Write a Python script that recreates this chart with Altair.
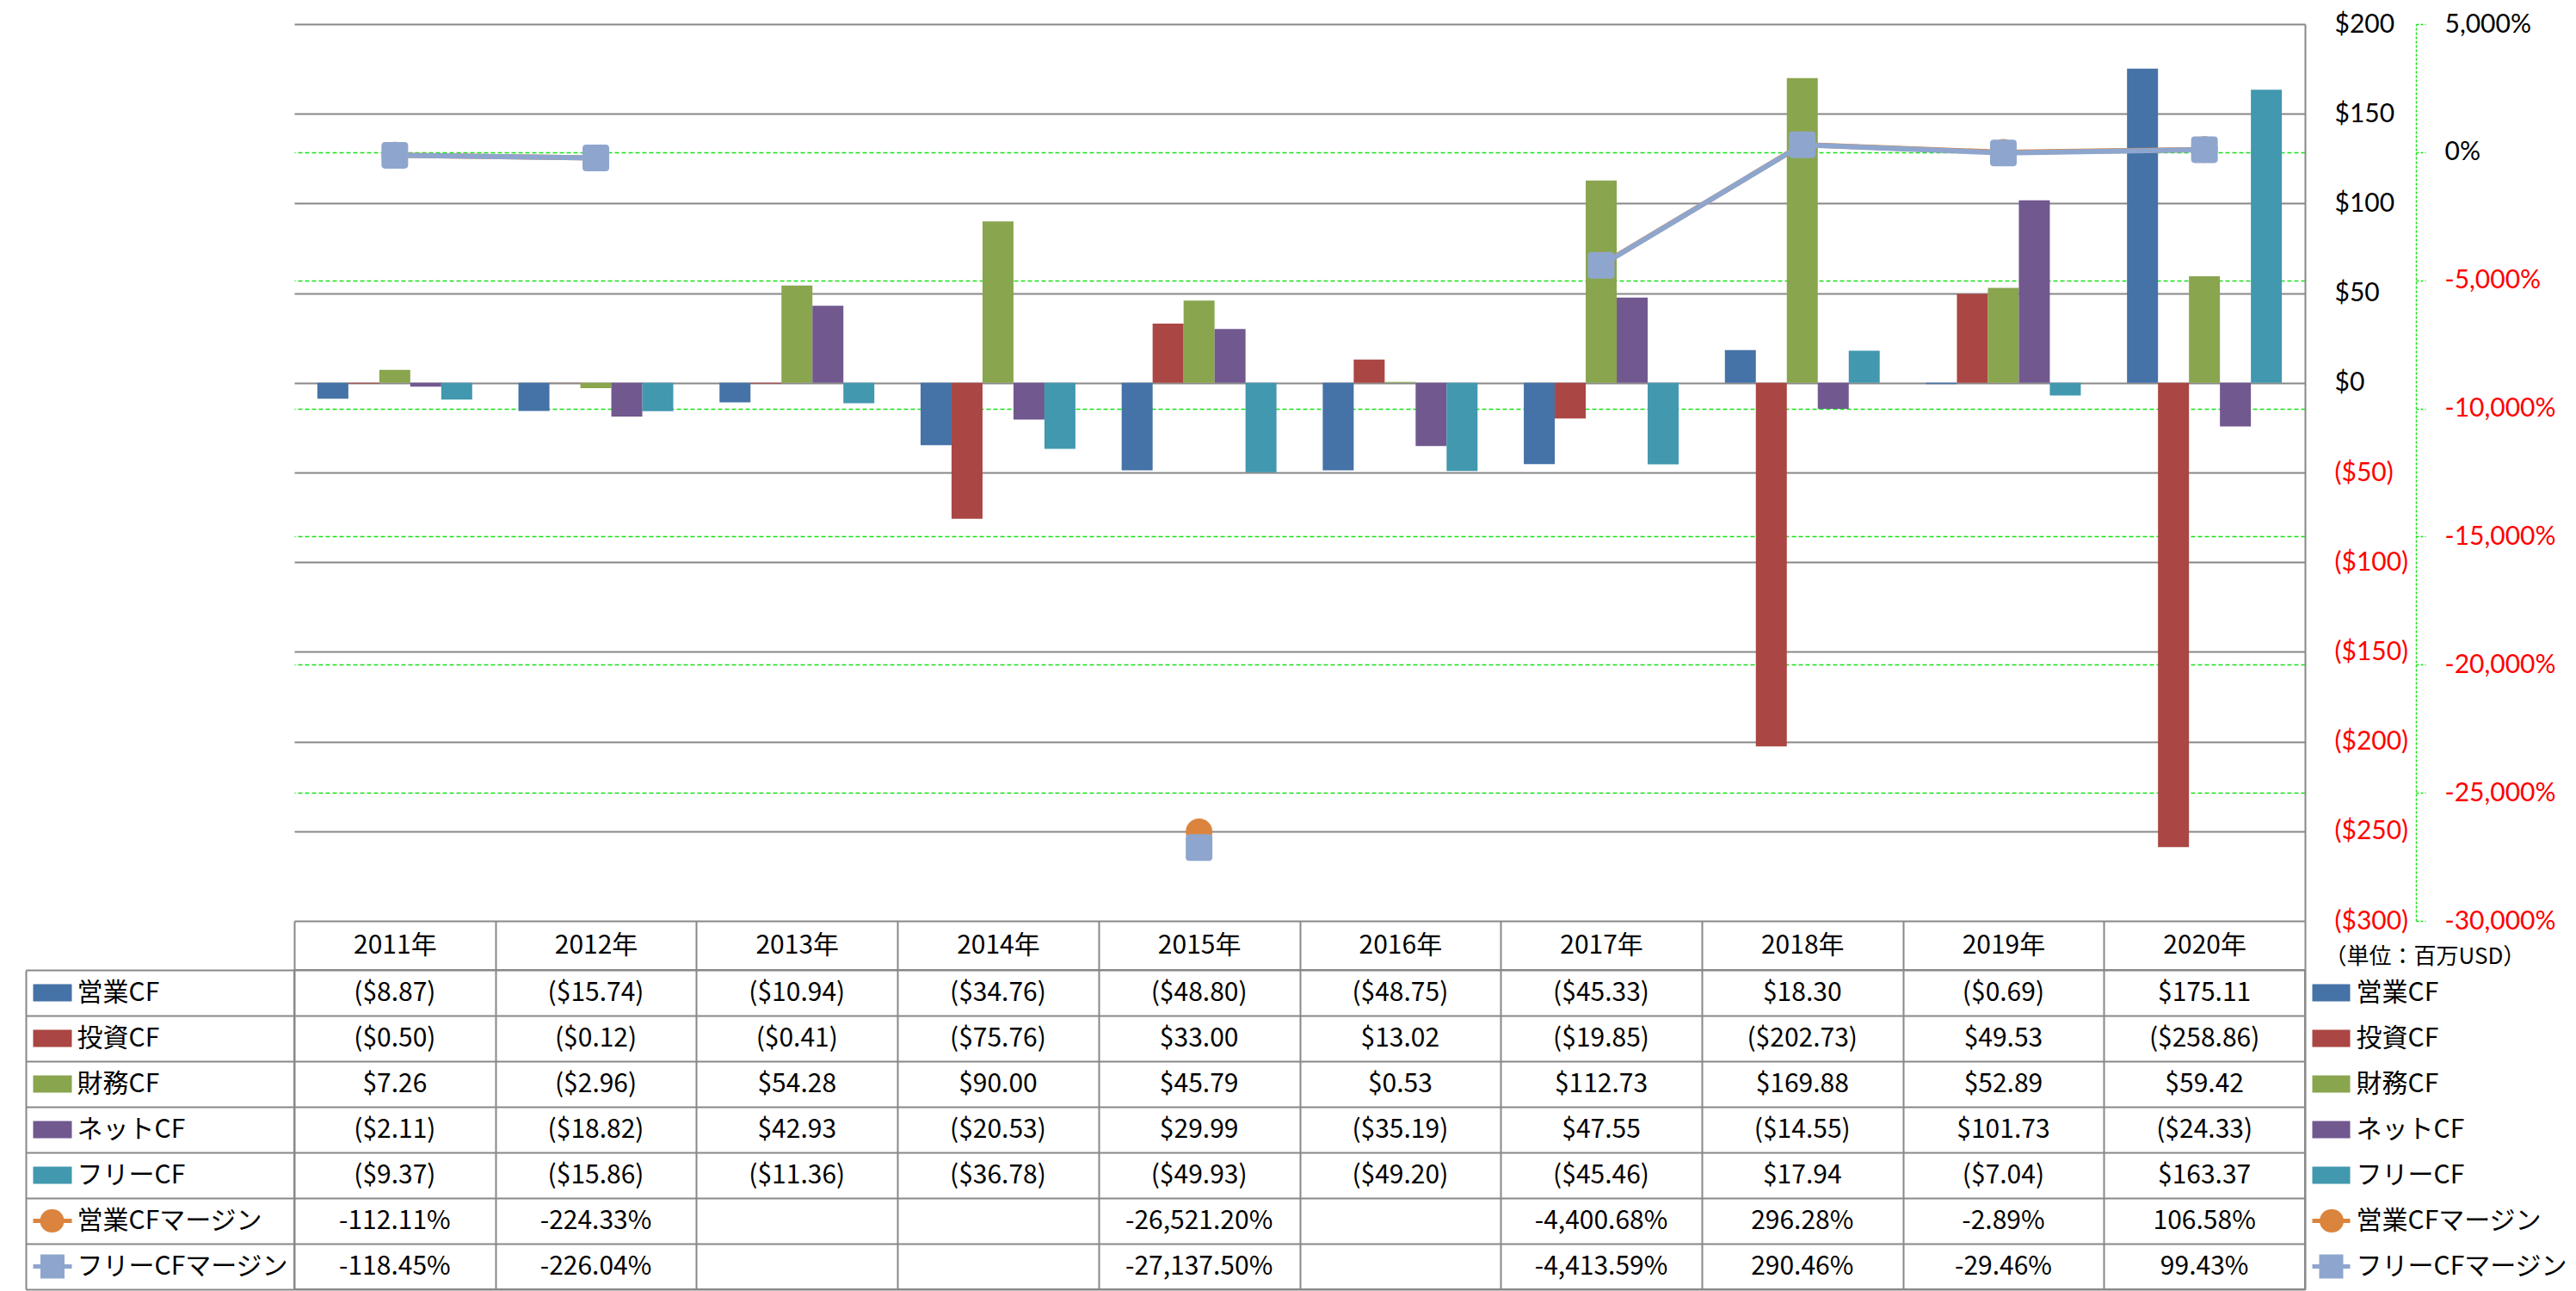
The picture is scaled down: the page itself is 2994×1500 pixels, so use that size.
import altair as alt
import pandas as pd

# ---------------- data ----------------
years = ["2011年", "2012年", "2013年", "2014年", "2015年",
         "2016年", "2017年", "2018年", "2019年", "2020年"]
cf_series = ["営業CF", "投資CF", "財務CF", "ネットCF", "フリーCF"]
margin_series = ["営業CFマージン", "フリーCFマージン"]

operating_cf = [-8.87, -15.74, -10.94, -34.76, -48.80, -48.75, -45.33, 18.30, -0.69, 175.11]
investing_cf = [-0.50, -0.12, -0.41, -75.76, 33.00, 13.02, -19.85, -202.73, 49.53, -258.86]
financing_cf = [7.26, -2.96, 54.28, 90.00, 45.79, 0.53, 112.73, 169.88, 52.89, 59.42]
net_cf = [-2.11, -18.82, 42.93, -20.53, 29.99, -35.19, 47.55, -14.55, 101.73, -24.33]
free_cf = [-9.37, -15.86, -11.36, -36.78, -49.93, -49.20, -45.46, 17.94, -7.04, 163.37]
operating_margin = [-112.11, -224.33, None, None, -26521.20, None, -4400.68, 296.28, -2.89, 106.58]
free_margin = [-118.45, -226.04, None, None, -27137.50, None, -4413.59, 290.46, -29.46, 99.43]

cf_colors = ["#4572A7", "#AA4643", "#89A54E", "#71588F", "#4198AF"]
margin_colors = ["#DB843D", "#8EA6CE"]
unit_label = "（単位：百万USD）"
primary_ticks = [-300, -250, -200, -150, -100, -50, 0, 50, 100, 150, 200]
secondary_ticks = [-30000, -25000, -20000, -15000, -10000, -5000, 0, 5000]

# ---------------- styles ----------------
FONT = "Noto Sans CJK JP"
AXIS_FONT = "Lato"
GRID = "#888888"
GREEN = "#19E019"
RED = "#FF0000"
W = 2337
H_TOP = 1042
H_TAB = 371
ROUND_SQ = ("M -0.72,-1 L 0.72,-1 Q 1,-1 1,-0.72 L 1,0.72 Q 1,1 0.72,1 "
            "L -0.72,1 Q -1,1 -1,0.72 L -1,-0.72 Q -1,-1 -0.72,-1 Z")

series_values = dict(zip(cf_series + margin_series,
                         [operating_cf, investing_cf, financing_cf, net_cf, free_cf,
                          operating_margin, free_margin]))
row_order = cf_series + margin_series
all_colors = cf_colors + margin_colors

cf_df = pd.DataFrame([{"year": y, "series": s, "value": v}
                      for s in cf_series for y, v in zip(years, series_values[s])])
margin_df = pd.DataFrame([{"year": y, "series": s, "value": v}
                          for s in margin_series for y, v in zip(years, series_values[s])])
table_df = pd.DataFrame([{"year": y, "series": s, "value": v}
                         for s in row_order for y, v in zip(years, series_values[s])])

# ---------------- top chart ----------------
x_top = alt.X("year:N", sort=years,
              scale=alt.Scale(domain=years, paddingInner=0.23, paddingOuter=0.115),
              axis=None)

primary_axis = alt.Axis(
    orient="right", values=primary_ticks, domain=True, domainColor=GRID, domainWidth=2,
    ticks=False, labelPadding=34, labelAlign="left", labelBaseline="middle",
    labelFontSize=30, labelFont=AXIS_FONT, labelOverlap=False,
    labelExpr="datum.value < 0 ? '($' + format(-datum.value, 'd') + ')' : '$' + format(datum.value, 'd')",
    labelColor={"condition": {"test": "datum.value < 0", "value": RED}, "value": "black"},
    grid=True, gridColor=GRID, gridWidth=2, title=None)

secondary_axis = alt.Axis(
    orient="right", offset=129, values=secondary_ticks,
    domain=True, domainColor=GREEN, domainDash=[3, 2], domainWidth=1.5,
    ticks=True, tickSize=11, tickColor=GREEN, tickDash=[3, 2], tickWidth=1.5,
    labelPadding=22, labelAlign="left", labelBaseline="middle",
    labelFontSize=30, labelFont=AXIS_FONT, labelOverlap=False,
    labelExpr="(datum.value < 0 ? '-' : '') + format(abs(datum.value), ',') + '%'",
    labelColor={"condition": {"test": "datum.value < 0", "value": RED}, "value": "black"},
    grid=True, gridColor=GREEN, gridDash=[5, 3], gridWidth=1.5,
    gridOpacity={"condition": {"test": "datum.value === 5000 || datum.value === -30000",
                               "value": 0}, "value": 1},
    title=None)

bars = alt.Chart(cf_df).mark_bar().encode(
    x=x_top,
    xOffset=alt.XOffset("series:N", sort=cf_series,
                        scale=alt.Scale(domain=cf_series, paddingInner=0, paddingOuter=0)),
    y=alt.Y("value:Q", scale=alt.Scale(domain=[-300, 200], nice=False, zero=False),
            axis=primary_axis),
    color=alt.Color("series:N", scale=alt.Scale(domain=cf_series, range=cf_colors), legend=None),
)

y_sec = alt.Y("value:Q", scale=alt.Scale(domain=[-30000, 5000], nice=False, zero=False),
              axis=secondary_axis)


def margin_layers(name, color, shape):
    base = alt.Chart(margin_df).transform_filter(alt.datum.series == name)
    line = base.mark_line(color=color, strokeWidth=6,
                          invalid="break-paths-show-domains").encode(x=x_top, y=y_sec)
    pts = base.mark_point(filled=True, size=961, shape=shape, color=color,
                          opacity=1).encode(x=x_top, y=y_sec)
    return [line, pts]


lines = alt.layer(*margin_layers(margin_series[0], margin_colors[0], "circle"),
                  *margin_layers(margin_series[1], margin_colors[1], ROUND_SQ))

top = alt.layer(bars, lines).resolve_scale(y="independent").properties(
    width=W, height=H_TOP, view=alt.ViewBackground(strokeOpacity=0))

# ---------------- table ----------------
header_axis = alt.Axis(
    orient="top", tickBand="extent", tickSize=57, tickColor=GRID, tickWidth=2,
    domain=False, grid=True, gridColor=GRID, gridWidth=2,
    labelPadding=-28.5, labelBaseline="middle", labelAngle=0, labelFontSize=30,
    labelFont=FONT, labelColor="black", labelOverlap=False, title=None)

x_tab = alt.X("year:N", sort=years,
              scale=alt.Scale(domain=years, paddingInner=0, paddingOuter=0),
              axis=header_axis)


def y_tab(axis):
    return alt.Y("series:N", sort=row_order,
                 scale=alt.Scale(domain=row_order, paddingInner=0, paddingOuter=0),
                 axis=axis)


color_cond = {"condition": [{"test": f"datum.value === '{n}'", "value": c}
                            for n, c in zip(row_order, all_colors)],
              "value": "black"}
width_cond = {"condition": {"test": "indexof(datum.value, 'マージン') >= 0", "value": 5},
              "value": 20}


def only(name):
    return {"condition": {"test": f"datum.value === '{name}'", "value": 1}, "value": 0}


label_axis = alt.Axis(
    orient="left", offset=0, domain=False, tickBand="extent", tickSize=312,
    tickColor=GRID, tickWidth=2, grid=True, gridColor=GRID, gridWidth=2,
    labelAlign="left", labelPadding=-59, labelFontSize=30, labelFont=FONT,
    labelColor="black", labelBaseline="middle", labelLimit=500, labelOverlap=False,
    title=None)
border_axis = alt.Axis(orient="left", offset=312, domain=True, domainColor=GRID,
                       domainWidth=2, ticks=False, labels=False, grid=False, title=None)
lsym_axis = alt.Axis(orient="left", offset=259, domain=False, tickSize=45,
                     tickWidth=width_cond, tickColor=color_cond, labels=False,
                     grid=False, title=None)
lcirc_axis = alt.Axis(orient="left", offset=281.5, domain=False, tickSize=1,
                      tickWidth=27, tickCap="round", tickColor=margin_colors[0],
                      tickOpacity=only(margin_series[0]), labels=False, grid=False, title=None)
lsq_axis = alt.Axis(orient="left", offset=267.5, domain=False, tickSize=28,
                    tickWidth=28, tickColor=margin_colors[1],
                    tickOpacity=only(margin_series[1]), labels=False, grid=False, title=None)
rsym_axis = alt.Axis(orient="right", offset=8, domain=False, tickSize=44,
                     tickWidth=width_cond, tickColor=color_cond,
                     labelPadding=7, labelAlign="left", labelBaseline="middle",
                     labelFontSize=30, labelFont=FONT, labelColor="black",
                     labelLimit=500, labelOverlap=False, grid=False,
                     title=unit_label, titleAngle=0, titleFontSize=26, titleFont=FONT,
                     titleFontWeight="normal", titleColor="black", titleX=14, titleY=-16,
                     titleAlign="left", titleBaseline="middle")
rcirc_axis = alt.Axis(orient="right", offset=30, domain=False, tickSize=1,
                      tickWidth=27, tickCap="round", tickColor=margin_colors[0],
                      tickOpacity=only(margin_series[0]), labels=False, grid=False, title=None)
rsq_axis = alt.Axis(orient="right", offset=16, domain=False, tickSize=28,
                    tickWidth=28, tickColor=margin_colors[1],
                    tickOpacity=only(margin_series[1]), labels=False, grid=False, title=None)

label_expr = ("!isValid(datum.value) ? '' : (indexof(datum.series, 'マージン') >= 0 ? "
              "(datum.value < 0 ? '-' : '') + format(abs(datum.value), ',.2f') + '%' : "
              "(datum.value < 0 ? '($' + format(-datum.value, ',.2f') + ')' : "
              "'$' + format(datum.value, ',.2f')))")

tbase = alt.Chart(table_df)
text_layer = tbase.transform_calculate(label=label_expr).mark_text(
    fontSize=30, font=FONT, color="black", align="center", baseline="middle"
).encode(x=x_tab, y=y_tab(label_axis), text="label:N")


def helper(axis):
    return tbase.mark_text(opacity=0).encode(x=x_tab, y=y_tab(axis))


table = alt.layer(
    text_layer,
    helper(border_axis), helper(lsym_axis), helper(lcirc_axis), helper(lsq_axis),
    helper(rsym_axis), helper(rcirc_axis), helper(rsq_axis),
).resolve_axis(y="independent").properties(
    width=W, height=H_TAB, view=alt.ViewBackground(stroke=GRID, strokeWidth=2))

chart = alt.vconcat(top, table, spacing=57, bounds="flush").properties(
    padding={"left": 19, "top": 5, "right": 0, "bottom": 0}
).configure(font=FONT)

chart.save("out.html", embed_options={"renderer": "svg", "actions": False})
